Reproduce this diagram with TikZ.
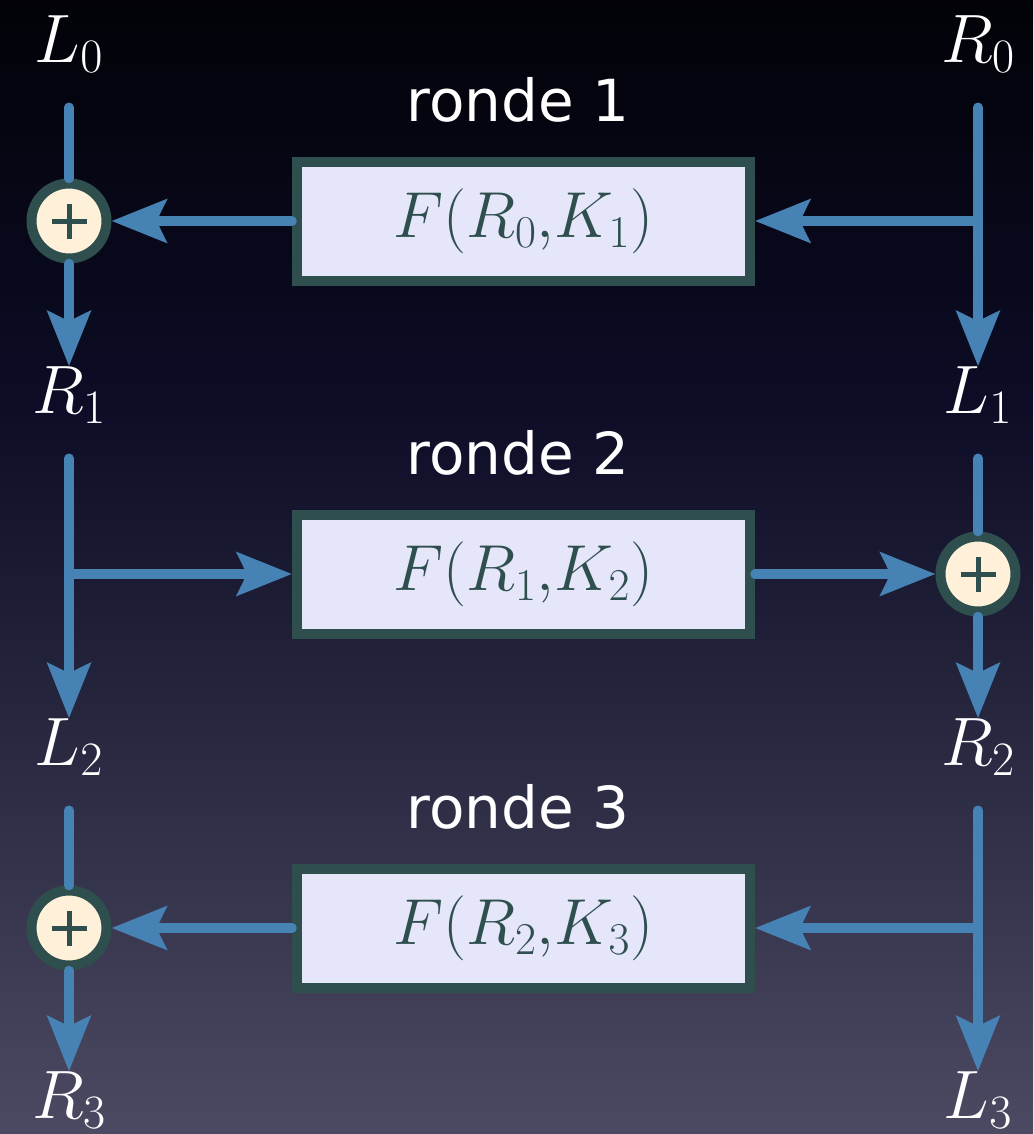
\RequirePackage{fix-cm}
\documentclass[tikz,border=0pt]{standalone}
\usepackage{fontspec}
\newfontfamily\rondefont{DejaVu Sans}
\usetikzlibrary{arrows.meta}
\definecolor{lijn}{HTML}{4682B4}
\definecolor{rand}{HTML}{2F4F4F}
\definecolor{vak}{HTML}{E6E6FA}
\definecolor{xorvul}{HTML}{FFF0D9}
\definecolor{bgtop}{HTML}{020208}
\definecolor{bgeen}{HTML}{0C0C26}
\definecolor{bgtwee}{HTML}{23233C}
\definecolor{bgbot}{HTML}{4C4A62}
\pgfdeclareverticalshading{achtergrond}{100bp}{color(0bp)=(bgbot); color(25bp)=(bgbot); color(45bp)=(bgtwee); color(57.5bp)=(bgeen); color(75bp)=(bgtop); color(100bp)=(bgtop)}

\begin{document}
\begin{tikzpicture}[
    lijnstuk/.style={line width=0.19cm, lijn, line cap=round},
    pijl/.style={lijnstuk, -{Stealth[length=1.1cm, width=0.86cm, inset=0.2cm]}},
    vanlabel/.style={shorten <=0.7cm},
    naam/.style={text=white, inner sep=0pt, outer sep=0pt, anchor=base, font=\fontsize{39}{40}\selectfont},
    ronde/.style={text=white, inner sep=0pt, anchor=base, font=\rondefont\fontsize{33}{36}\selectfont},
    functie/.style={draw=rand, fill=vak, line width=0.2cm, minimum width=9.06cm, minimum height=2.38cm, text=rand, font=\fontsize{37}{40}\selectfont},
    xor/.style={circle, draw=rand, fill=xorvul, line width=0.2cm, minimum size=1.5cm, inner sep=0pt,
        path picture={\draw[rand, line width=0.1cm]
            ([xshift=-0.35cm]path picture bounding box.center) -- ([xshift=0.35cm]path picture bounding box.center)
            ([yshift=-0.35cm]path picture bounding box.center) -- ([yshift=0.35cm]path picture bounding box.center);}}
]
\shade[shading=achtergrond] (0,0) rectangle (20.66,-22.68);
\useasboundingbox (0,0) rectangle (20.66,-22.68);

\node[naam] (L0) at (1.38,-1.24) {$L_0$};
\node[naam] (R0) at (19.56,-1.24) {$R_0$};
\node[naam] (R1) at (1.38,-8.26) {$R_1$};
\node[naam] (L1) at (19.56,-8.26) {$L_1$};
\node[naam] (L2) at (1.38,-15.30) {$L_2$};
\node[naam] (R2) at (19.56,-15.30) {$R_2$};
\node[naam] (R3) at (1.38,-22.36) {$R_3$};
\node[naam] (L3) at (19.56,-22.36) {$L_3$};

\node[ronde] (ronde1) at (10.36,-2.42) {ronde 1};
\node[ronde] (ronde2) at (10.36,-9.48) {ronde 2};
\node[ronde] (ronde3) at (10.36,-16.56) {ronde 3};

\node[functie] (f1) at (10.47,-4.42) {$F(R_0{,}K_1)$};
\node[functie] (f2) at (10.47,-11.48) {$F(R_1{,}K_2)$};
\node[functie] (f3) at (10.47,-18.56) {$F(R_2{,}K_3)$};

\node[xor] (xor1) at (1.38,-4.42) {};
\node[xor] (xor2) at (19.56,-11.48) {};
\node[xor] (xor3) at (1.38,-18.56) {};

\coordinate (b1) at (19.56,-4.42);
\coordinate (b2) at (1.38,-11.48);
\coordinate (b3) at (19.56,-18.56);

\draw[lijnstuk, vanlabel] (L0) -- (xor1);
\draw[pijl] (xor1) -- (R1);
\draw[pijl, vanlabel] (R0) -- (L1);
\draw[pijl] (b1) -- (f1.east);
\draw[pijl] (f1.west) -- (xor1);

\draw[pijl, vanlabel] (R1) -- (L2);
\draw[pijl] (b2) -- (f2.west);
\draw[pijl] (f2.east) -- (xor2);
\draw[lijnstuk, vanlabel] (L1) -- (xor2);
\draw[pijl] (xor2) -- (R2);

\draw[lijnstuk, vanlabel] (L2) -- (xor3);
\draw[pijl] (xor3) -- (R3);
\draw[pijl, vanlabel] (R2) -- (L3);
\draw[pijl] (b3) -- (f3.east);
\draw[pijl] (f3.west) -- (xor3);
\end{tikzpicture}
\end{document}
